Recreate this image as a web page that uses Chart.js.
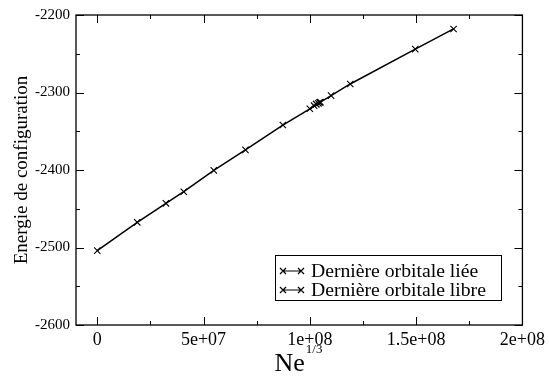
<!DOCTYPE html>
<html>
<head>
<meta charset="utf-8">
<script src="https://cdn.jsdelivr.net/npm/chart.js@4.4.1/dist/chart.umd.min.js"></script>
<style>
  html, body { margin: 0; padding: 0; background: #fff; }
  #wrap { width: 549px; height: 376px; }
</style>
</head>
<body>
<div id="wrap"><canvas id="c" width="549" height="376"></canvas></div>
<script>
// configuration energy vs Ne^(1/3)
const lieeX = [0, 1.88e7, 3.23e7, 4.07e7, 5.48e7, 6.97e7, 8.73e7, 1.0e8, 1.02e8, 1.03e8];
const lieeY = [-2504, -2467.5, -2443, -2428, -2400.5, -2374, -2342, -2321, -2317, -2315];
const libreX = [1.03e8, 1.04e8, 1.045e8, 1.05e8, 1.10e8, 1.19e8, 1.496e8, 1.676e8];
const libreY = [-2315, -2314, -2313, -2312.5, -2304, -2289, -2244, -2218];
const seriesLabels = ['Dernière orbitale liée', 'Dernière orbitale libre'];

const xMajor = [0, 5e7, 1e8, 1.5e8, 2e8];
const xMinor = [2.5e7, 7.5e7, 1.25e8, 1.75e8];
const xTickLabels = ['0', '5e+07', '1e+08', '1.5e+08', '2e+08'];
const yMajor = [-2600, -2500, -2400, -2300, -2200];
const yMinor = [-2550, -2450, -2350, -2250];

const SERIF = '"Liberation Serif", "DejaVu Serif", serif';

const toPts = (xs, ys) => xs.map((x, i) => ({ x: x, y: ys[i] }));

// frame, inward ticks, axis titles and the boxed legend
const decor = {
  id: 'decor',
  afterDraw(chart) {
    const { ctx, chartArea: a, scales: { x, y } } = chart;
    ctx.save();
    ctx.strokeStyle = '#000';
    ctx.lineWidth = 1.3;
    ctx.strokeRect(a.left, a.top, a.right - a.left, a.bottom - a.top);

    ctx.lineWidth = 1;
    ctx.beginPath();
    const tx = (v, len) => {
      const px = Math.round(x.getPixelForValue(v)) + 0.5;
      ctx.moveTo(px, a.bottom); ctx.lineTo(px, a.bottom - len);
      ctx.moveTo(px, a.top); ctx.lineTo(px, a.top + len);
    };
    const ty = (v, len) => {
      const py = Math.round(y.getPixelForValue(v)) + 0.5;
      ctx.moveTo(a.left, py); ctx.lineTo(a.left + len, py);
      ctx.moveTo(a.right, py); ctx.lineTo(a.right - len, py);
    };
    xMajor.forEach(v => tx(v, 8));
    xMinor.forEach(v => tx(v, 4));
    yMajor.forEach(v => ty(v, 8));
    yMinor.forEach(v => ty(v, 4));
    ctx.stroke();

    // y title
    ctx.fillStyle = '#000';
    ctx.font = '19px ' + SERIF;
    ctx.textAlign = 'center';
    ctx.textBaseline = 'middle';
    ctx.translate(22, (a.top + a.bottom) / 2);
    ctx.rotate(-Math.PI / 2);
    ctx.fillText('Energie de configuration', 0, 0);
    ctx.setTransform(1, 0, 0, 1, 0, 0);

    // x title with superscript
    ctx.textAlign = 'left';
    ctx.textBaseline = 'alphabetic';
    ctx.font = '26px ' + SERIF;
    const base = 'Ne';
    const wBase = ctx.measureText(base).width;
    ctx.font = '13px ' + SERIF;
    const wSup = ctx.measureText('1/3').width;
    const x0 = 298 - (wBase + wSup) / 2;
    ctx.font = '26px ' + SERIF;
    ctx.fillText(base, x0, 371);
    ctx.font = '13px ' + SERIF;
    ctx.fillText('1/3', x0 + wBase + 1, 353);

    // legend
    const lx = 275, ly = 255, lw = 226, lh = 45;
    ctx.fillStyle = '#fff';
    ctx.fillRect(lx, ly, lw, lh);
    ctx.strokeStyle = '#000';
    ctx.lineWidth = 1;
    ctx.strokeRect(lx + 0.5, ly + 0.5, lw, lh);
    ctx.font = '19.7px ' + SERIF;
    ctx.textBaseline = 'middle';
    seriesLabels.forEach((lab, i) => {
      const cy = ly + 16 + i * 19;
      ctx.beginPath();
      ctx.lineWidth = 1.2;
      ctx.moveTo(283, cy); ctx.lineTo(301, cy);
      [283, 301].forEach(mx => {
        ctx.moveTo(mx - 3, cy - 3); ctx.lineTo(mx + 3, cy + 3);
        ctx.moveTo(mx - 3, cy + 3); ctx.lineTo(mx + 3, cy - 3);
      });
      ctx.stroke();
      ctx.fillStyle = '#000';
      ctx.fillText(lab, 311, cy + 1);
    });
    ctx.restore();
  }
};

const ds = (label, pts) => ({
  label: label,
  data: pts,
  borderColor: '#000',
  backgroundColor: '#000',
  borderWidth: 1.5,
  pointStyle: 'crossRot',
  pointRadius: 4.5,
  pointBorderWidth: 1.1,
  pointBorderColor: '#000',
  showLine: true,
  tension: 0
});

new Chart(document.getElementById('c'), {
  type: 'scatter',
  data: {
    datasets: [
      ds(seriesLabels[0], toPts(lieeX, lieeY)),
      ds(seriesLabels[1], toPts(libreX, libreY))
    ]
  },
  options: {
    responsive: false,
    animation: false,
    layout: { padding: { top: 14, right: 26, left: 0, bottom: 0 } },
    plugins: { legend: { display: false }, tooltip: { enabled: false } },
    scales: {
      x: {
        type: 'linear',
        min: -1e7,
        max: 2e8,
        afterBuildTicks: s => { s.ticks = xMajor.map(v => ({ value: v })); },
        afterFit: s => { s.height = 51; },
        grid: { display: false, drawTicks: false },
        border: { display: false },
        ticks: {
          padding: 4,
          color: '#000',
          font: { family: SERIF, size: 18 },
          maxRotation: 0,
          autoSkip: false,
          callback: v => xTickLabels[xMajor.indexOf(v)]
        }
      },
      y: {
        type: 'linear',
        min: -2600,
        max: -2200,
        afterBuildTicks: s => { s.ticks = yMajor.map(v => ({ value: v })); },
        afterFit: s => { s.width = 76; },
        grid: { display: false, drawTicks: false },
        border: { display: false },
        ticks: {
          padding: 6,
          color: '#000',
          font: { family: SERIF, size: 15 },
          callback: v => String(v)
        }
      }
    }
  },
  plugins: [decor]
});
</script>
</body>
</html>
